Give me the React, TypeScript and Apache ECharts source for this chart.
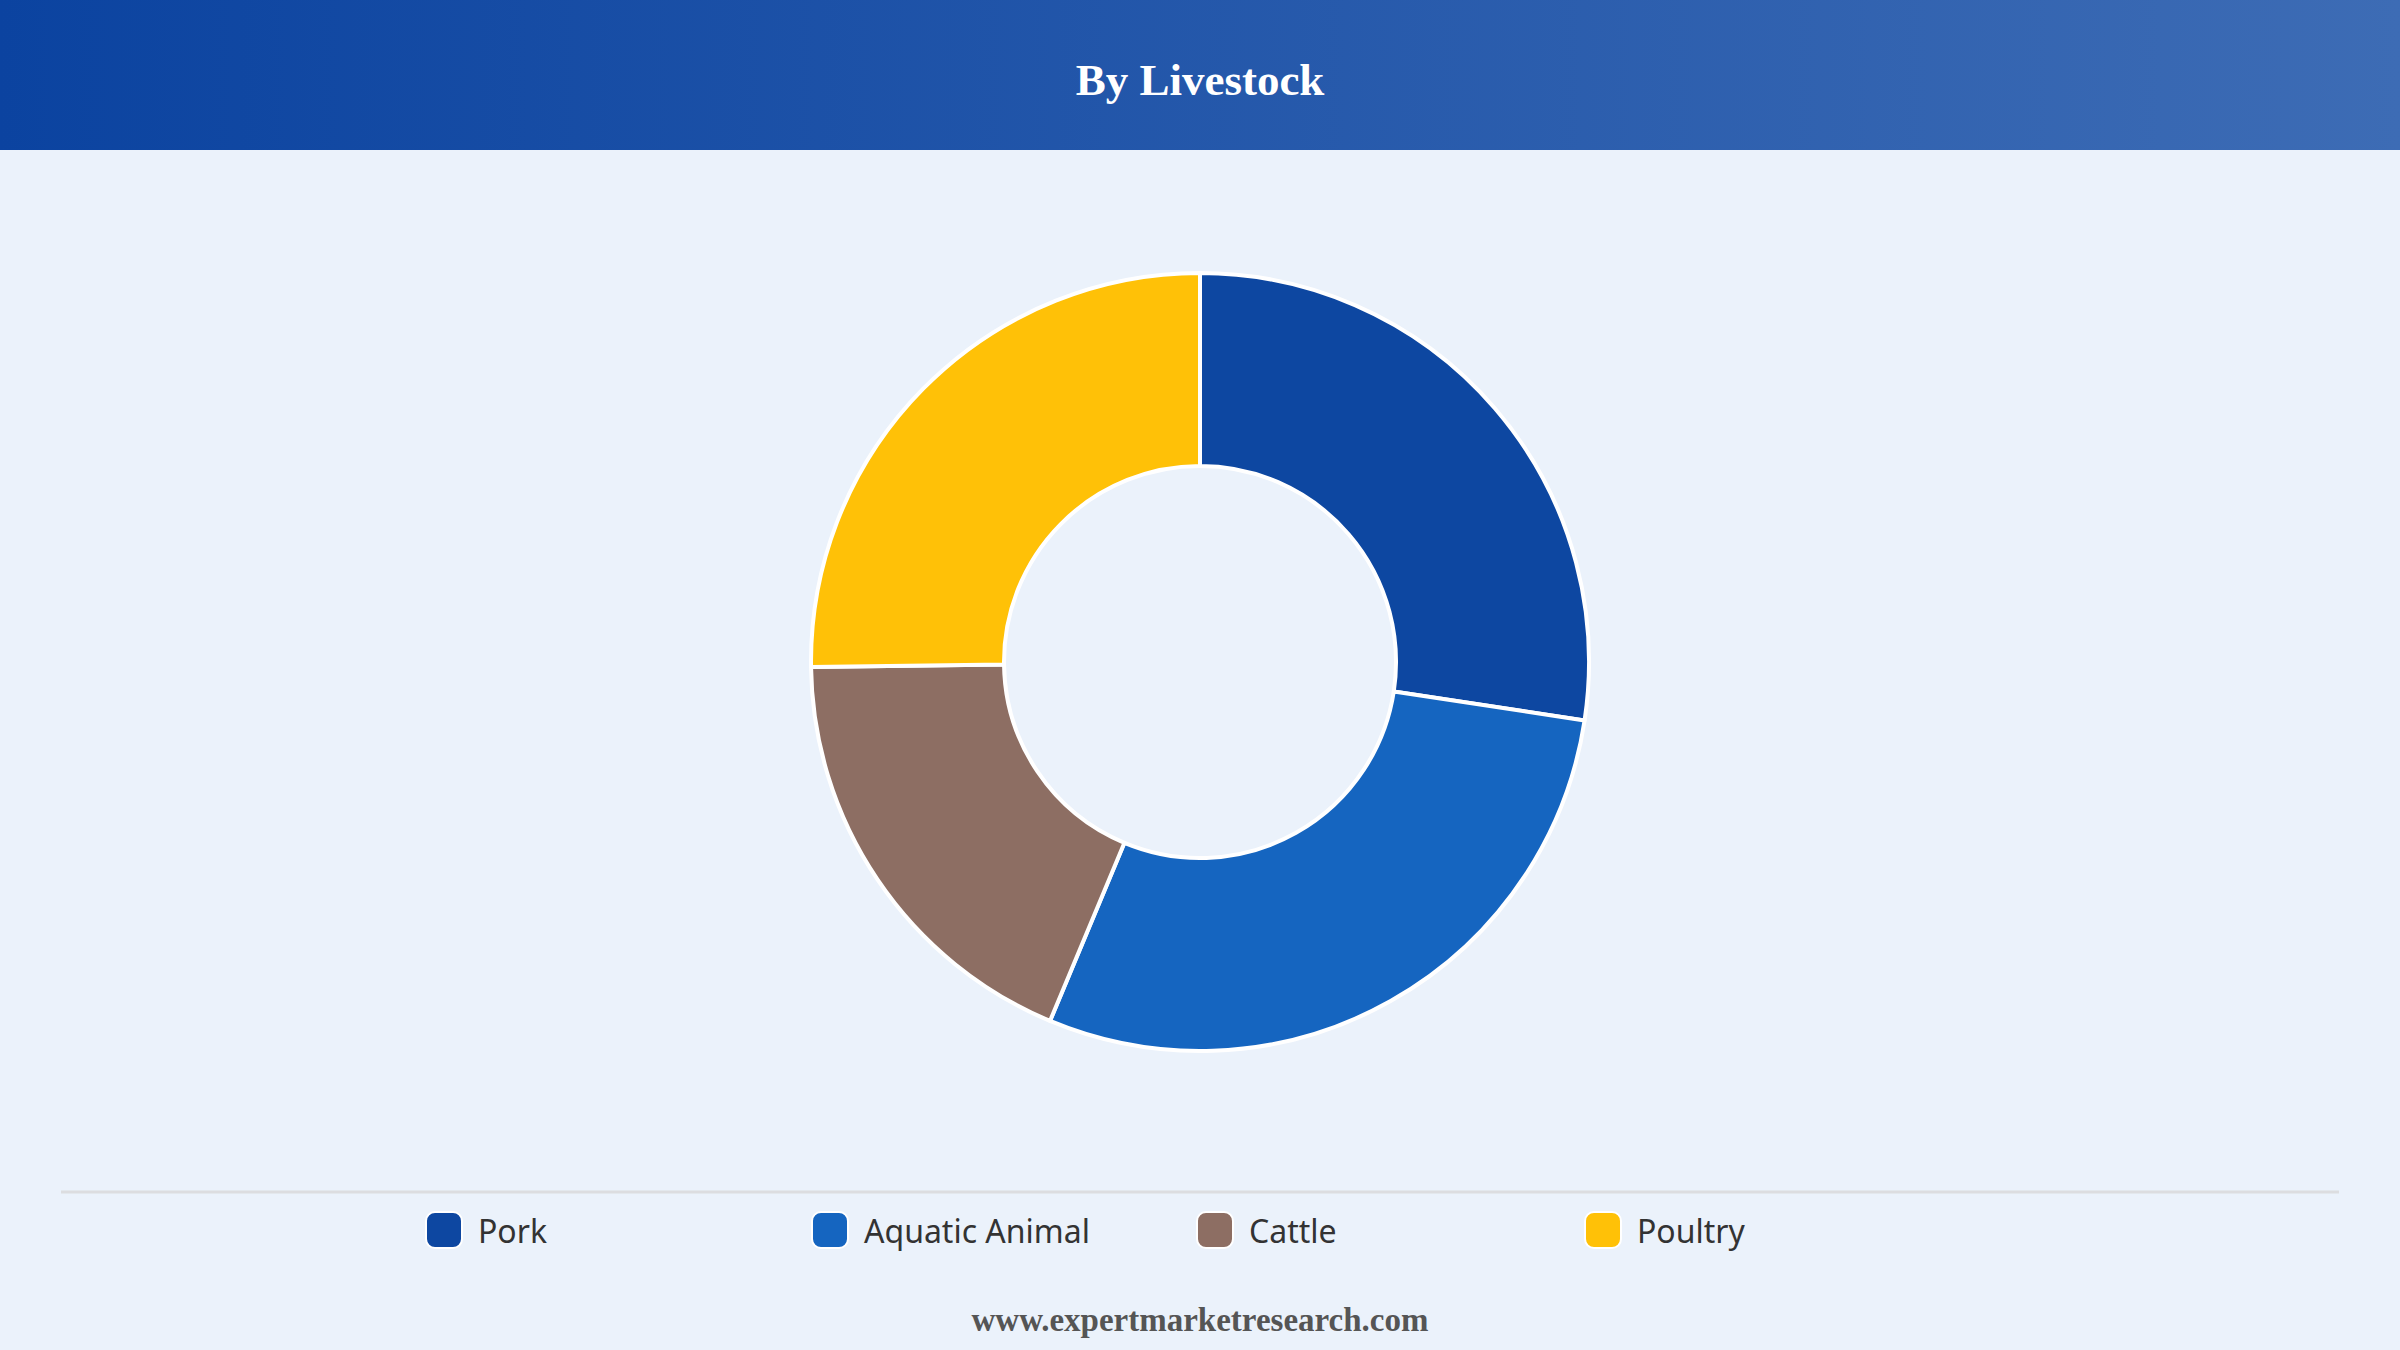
import React, { useEffect, useRef } from 'react';
import * as echarts from 'echarts';

// slice data (percent share)
const categories = ['Pork', 'Aquatic Animal', 'Cattle', 'Poultry'];
const shares = [27.4, 28.9, 18.5, 25.2];
const sliceColors = ['#0d47a1', '#1565c0', '#8d6e63', '#ffc107'];
// x position of each legend entry
const legendLefts = [425, 811, 1196, 1584];

const App: React.FC = () => {
  const chartRef = useRef<HTMLDivElement>(null);

  useEffect(() => {
    document.body.style.margin = '0';
    if (!chartRef.current) return;
    const chart = echarts.init(chartRef.current, undefined, { renderer: 'svg' });

    const option = {
      animation: false,
      backgroundColor: '#ebf2fb',
      title: [
        {
          text: 'By Livestock',
          left: 'center',
          top: 52,
          textStyle: {
            fontFamily: 'Liberation Serif',
            fontWeight: 'bold',
            fontSize: 45,
            color: '#ffffff',
          },
        },
        {
          text: 'www.expertmarketresearch.com',
          left: 'center',
          top: 1298,
          textStyle: {
            fontFamily: 'Liberation Serif',
            fontWeight: 'bold',
            fontSize: 33,
            color: '#555555',
          },
        },
      ],
      graphic: [
        {
          type: 'rect',
          z: -1,
          shape: { x: 0, y: 0, width: 2400, height: 150 },
          style: {
            fill: new echarts.graphic.LinearGradient(0, 0, 1, 0, [
              { offset: 0, color: '#0b43a0' },
              { offset: 1, color: '#3d6cb5' },
            ]),
          },
        },
        {
          type: 'line',
          shape: { x1: 61, y1: 1192, x2: 2339, y2: 1192 },
          style: { stroke: '#dcdde0', lineWidth: 3 },
        },
      ],
      // one legend per entry so each sits at its own fixed spot
      legend: categories.map((name, i) => ({
        data: [name],
        left: legendLefts[i],
        top: 1211,
        padding: 0,
        icon: 'roundRect',
        itemWidth: 36,
        itemHeight: 36,
        textStyle: {
          fontFamily: 'Noto Sans',
          fontSize: 32,
          color: '#333333',
          padding: [0, 0, 0, 11],
        },
      })),
      series: [
        {
          type: 'pie',
          center: [1200, 662],
          radius: [196, 389],
          startAngle: 90,
          clockwise: true,
          label: { show: false },
          labelLine: { show: false },
          emphasis: { disabled: true },
          itemStyle: { borderColor: '#ffffff', borderWidth: 4 },
          data: categories.map((name, i) => ({
            name,
            value: shares[i],
            itemStyle: { color: sliceColors[i] },
          })),
        },
      ],
    };

    chart.setOption(option);
    return () => {
      chart.dispose();
    };
  }, []);

  return <div ref={chartRef} style={{ width: '2400px', height: '1350px' }} />;
};

export default App;
